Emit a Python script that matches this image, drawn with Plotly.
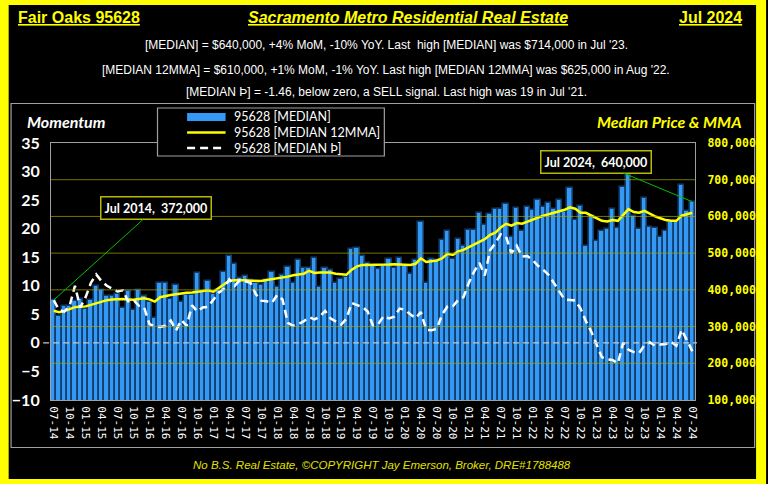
import plotly.graph_objects as go
import pandas as pd

# ---------------- data ----------------
months = [d.strftime("%m-%y") for d in pd.date_range("2014-07-01", "2024-07-01", freq="MS")]

median_price = [
    372, 330, 357, 357, 370, 375, 347, 373, 411, 400, 382, 384, 389, 350, 398, 345,
    399, 382, 368, 324, 420, 418, 375, 414, 368, 386, 386, 445, 395, 423, 389, 400,
    449, 493, 471, 432, 438, 427, 418, 414, 427, 449, 409, 440, 462, 420, 480, 459,
    459, 488, 407, 459, 455, 420, 430, 435, 511, 514, 493, 473, 464, 456, 464, 484,
    459, 486, 465, 444, 482, 584, 418, 485, 482, 536, 561, 485, 538, 520, 564, 564,
    609, 576, 606, 620, 620, 635, 545, 623, 559, 625, 618, 645, 625, 636, 620, 645,
    612, 677, 591, 629, 519, 600, 532, 560, 567, 620, 568, 680, 714, 600, 565, 650,
    571, 568, 545, 560, 585, 585, 686, 614, 640,
]
median_price = [v * 1000 for v in median_price]

mma12 = [
    343, 339, 342, 347, 353, 354, 355, 359, 364, 368, 372, 374, 375, 375, 374, 373,
    375, 377, 374, 368, 380, 384, 386, 388, 391, 392, 393, 395, 397, 399, 395, 405,
    414, 425, 426, 427, 426, 425, 424, 424, 427, 429, 431, 432, 436, 440, 442, 444,
    452, 446, 447, 447, 447, 444, 442, 441, 455, 464, 468, 468, 467, 468, 468, 469,
    470, 469, 467, 468, 471, 486, 476, 478, 480, 486, 498, 495, 505, 509, 516, 523,
    530, 538, 550, 556, 570, 580, 575, 582, 580, 586, 592, 597, 602, 606, 611, 614,
    618, 625, 621, 610, 610, 602, 594, 588, 586, 590, 588, 605, 620, 612, 610, 615,
    607, 600, 595, 590, 588, 588, 602, 605, 610,
]
mma12 = [v * 1000 for v in mma12]

momentum = [
    7.5, 5.8, 5.5, 6.5, 10.0, 6.2, 8.0, 10.5, 12.0, 10.8, 10.0, 9.5, 9.0, 9.2, 7.3, 7.5,
    6.5, 6.2, 3.3, 2.9, 2.8, 3.0, 3.9, 2.2, 4.0, 3.0, 6.6, 5.5, 6.2, 6.3, 7.6, 8.8,
    9.5, 11.1, 10.0, 11.0, 10.8, 10.5, 8.5, 7.4, 7.3, 7.0, 8.4, 7.6, 3.5, 3.0, 3.3, 3.8,
    4.5, 4.1, 4.6, 5.6, 4.3, 3.8, 3.2, 4.2, 7.0, 6.6, 6.3, 5.5, 3.0, 3.3, 4.7, 4.3,
    4.6, 6.0, 5.8, 5.0, 4.3, 5.4, 2.3, 2.2, 2.5, 5.0, 6.4, 6.4, 7.5, 8.0, 10.5, 12.5,
    14.0, 11.8, 16.2, 17.5, 19.0, 18.6, 15.7, 17.0, 15.1, 15.2, 14.5, 13.5, 12.8, 11.9, 10.5, 9.0,
    7.6, 7.5, 7.4, 6.0, 3.8, 2.0, -0.4, -2.5, -2.9, -3.0, -3.6, 0.0, -1.2, -1.6, -1.8, -0.4,
    0.1, -0.5, -0.3, -0.2, 0.2, -0.5, 2.3, 0.5, -1.46,
]

tick_months = months[::3]
price_ticks = [100000, 200000, 300000, 400000, 500000, 600000, 700000, 800000]
grid_values = price_ticks[1:-1]
momentum_ticks = [-10, -5, 0, 5, 10, 15, 20, 25, 30, 35]

series_names = ["95628 [MEDIAN]", "95628 [MEDIAN 12MMA]", "95628 [MEDIAN \u00de]"]

# ---------------- layout helpers ----------------
W, H = 768, 484
ML, MR, MT, MB = 48, 67, 143, 84
PW, PH = W - ML - MR, H - MT - MB


def px(x):
    return (x - ML) / PW


def py(y):
    return (H - MB - y) / PH


BAR_COLOR = "#3399F5"
YELLOW = "#FFFF00"
LEG_FONT = "Lato, sans-serif"

fig = go.Figure()
fig.add_trace(go.Bar(
    x=months, y=median_price, name=series_names[0], yaxis="y",
    marker=dict(color=BAR_COLOR, line=dict(color="#123d6b", width=1.6)),
))
fig.add_trace(go.Scatter(
    x=months, y=mma12, name=series_names[1], mode="lines", yaxis="y",
    line=dict(color=YELLOW, width=2.5),
))
fig.add_trace(go.Scatter(
    x=months, y=momentum, name=series_names[2], mode="lines", yaxis="y2",
    line=dict(color="white", width=2.5, dash="8px,5px"),
))

shapes = []
# gridlines drawn above bars (semi transparent olive)
for g in grid_values:
    shapes.append(dict(type="line", xref="paper", x0=0, x1=1, yref="y", y0=g, y1=g,
                       line=dict(color="rgba(165,165,0,0.7)", width=1), layer="above"))
# dashed zero line of the momentum axis
shapes.append(dict(type="line", xref="paper", x0=px(40), x1=px(703), yref="y2", y0=0, y1=0,
                   line=dict(color="#c8c8c8", width=1.3, dash="6px,4px"), layer="above"))
# inner frame
shapes.append(dict(type="rect", xref="paper", yref="paper", x0=px(7.5), x1=px(761.5),
                   y0=py(447.5), y1=py(103.5), line=dict(color="#a0a0a0", width=1.2),
                   layer="below"))
# legend box
shapes.append(dict(type="rect", xref="paper", yref="paper", x0=px(156), x1=px(386),
                   y0=py(156), y1=py(108), line=dict(color="#a0a0a0", width=1.2),
                   fillcolor="black", layer="above"))
# legend swatches
shapes.append(dict(type="rect", xref="paper", yref="paper", x0=px(186), x1=px(225),
                   y0=py(121), y1=py(113), line=dict(width=0), fillcolor=BAR_COLOR, layer="above"))
shapes.append(dict(type="line", xref="paper", yref="paper", x0=px(186), x1=px(225),
                   y0=py(132.5), y1=py(132.5), line=dict(color=YELLOW, width=2.5), layer="above"))
shapes.append(dict(type="line", xref="paper", yref="paper", x0=px(186), x1=px(225),
                   y0=py(148), y1=py(148), line=dict(color="white", width=2.5, dash="8px,5px"),
                   layer="above"))
# yellow outer border
shapes.append(dict(type="rect", xref="paper", yref="paper", x0=px(0), x1=px(768),
                   y0=py(484), y1=py(0), line=dict(color=YELLOW, width=10), layer="above"))

TITLE_FONT = "Liberation Sans, Arial, sans-serif"
annotations = [
    dict(text="<b><u>Fair Oaks 95628</u></b>", x=px(13), y=py(18), xanchor="left",
         font=dict(family=TITLE_FONT, size=16, color=YELLOW)),
    dict(text="<b><i><u>Sacramento Metro Residential Real Estate</u></i></b>", x=px(409.5), y=py(18),
         xanchor="center", font=dict(family=TITLE_FONT, size=16, color=YELLOW)),
    dict(text="<b><u>Jul 2024</u></b>", x=px(751), y=py(18), xanchor="right",
         font=dict(family=TITLE_FONT, size=16, color=YELLOW)),
    dict(text="[MEDIAN] = $640,000, +4% MoM, -10% YoY. Last  high [MEDIAN] was $714,000 in Jul '23.",
         x=px(388), y=py(45), xanchor="center", font=dict(family=TITLE_FONT, size=12, color="white")),
    dict(text="[MEDIAN 12MMA] = $610,000, +1% MoM, -1% YoY. Last high [MEDIAN 12MMA] was $625,000 in Aug '22.",
         x=px(388), y=py(70), xanchor="center", font=dict(family=TITLE_FONT, size=12, color="white")),
    dict(text="[MEDIAN \u00de] = -1.46, below zero, a SELL signal. Last high was 19 in Jul '21.",
         x=px(388), y=py(92), xanchor="center", font=dict(family=TITLE_FONT, size=12, color="white")),
    dict(text="<b><i>Momentum</i></b>", x=px(22), y=py(121), xanchor="left",
         font=dict(family="Lato, sans-serif", size=16, color="white")),
    dict(text="<b><i>Median Price &amp; MMA</i></b>", x=px(751), y=py(121), xanchor="right",
         font=dict(family="Lato, sans-serif", size=16, color=YELLOW)),
    dict(text="<i>No B.S. Real Estate, \u00a9COPYRIGHT Jay Emerson, Broker, DRE#1788488</i>",
         x=px(384), y=py(465), xanchor="center",
         font=dict(family=TITLE_FONT, size=11.5, color="#e0e000")),
]
# legend texts
for name, yy in zip(series_names, [117, 132.5, 148]):
    annotations.append(dict(text=name, x=px(232), y=py(yy), xanchor="left",
                            font=dict(family=LEG_FONT, size=12.5, color="white")))
for a in annotations:
    a.update(xref="paper", yref="paper", yanchor="middle", showarrow=False)

# data callouts
annotations.append(dict(
    x=months[0], y=median_price[0], xref="x", yref="y",
    text="<b>Jul 2014,  372,000</b>", showarrow=True, arrowhead=0, arrowwidth=1,
    arrowcolor="#00c000", ax=102, ay=-92, bgcolor="black", bordercolor="#b8b800",
    borderwidth=1.5, borderpad=3, font=dict(family="Lato, sans-serif", size=12.5, color="white"),
))
annotations.append(dict(
    x=months[-1], y=median_price[-1], xref="x", yref="y",
    text="<b>Jul 2024,  640,000</b>", showarrow=True, arrowhead=0, arrowwidth=1,
    arrowcolor="#00c000", ax=-96, ay=-40, bgcolor="black", bordercolor="#b8b800",
    borderwidth=1.5, borderpad=3, font=dict(family="Lato, sans-serif", size=12.5, color="white"),
))

fig.update_layout(
    width=W, height=H, autosize=False,
    margin=dict(l=ML, r=MR, t=MT, b=MB, pad=0),
    paper_bgcolor="black", plot_bgcolor="black",
    bargap=0,
    showlegend=False,
    xaxis=dict(type="category", range=[-0.5, len(months) - 0.5],
               tickmode="array", tickvals=tick_months, ticktext=tick_months,
               tickangle=90, tickfont=dict(family="DejaVu Sans Mono, monospace", size=11, color="white"),
               showgrid=False, showline=True, linecolor="#a0a0a0", linewidth=1.2, mirror=True,
               ticks="", ticklabelstandoff=3, zeroline=False),
    yaxis=dict(side="right", range=[price_ticks[0], price_ticks[-1]], tickvals=price_ticks,
               tickformat=",d", showgrid=False, zeroline=False, ticks="",
               tickfont=dict(family="DejaVu Sans Mono, monospace", size=11.5, color=YELLOW, weight="bold"),
               ticklabelstandoff=9, showline=True, linecolor="#a0a0a0", linewidth=1.2),
    yaxis2=dict(side="left", overlaying="y", range=[momentum_ticks[0], momentum_ticks[-1]],
                tickvals=momentum_ticks, showgrid=False, zeroline=False, ticks="",
                tickfont=dict(family="Lato, sans-serif", size=16, color="white", weight="bold"),
                ticklabelstandoff=7, showline=True, linecolor="#a0a0a0", linewidth=1.2),
    shapes=shapes,
    annotations=annotations,
)

fig.write_html(
    "out.html",
    config={"displayModeBar": False},
    post_script="document.body.style.margin='0';document.body.style.overflow='hidden';",
)
